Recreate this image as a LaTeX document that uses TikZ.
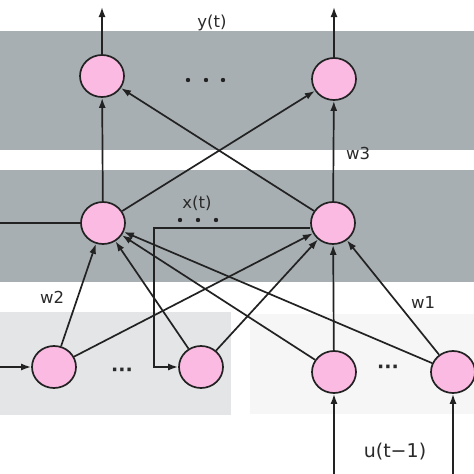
\documentclass[tikz,border=0pt]{standalone}
\usepackage{fontspec}
\setmainfont{DejaVu Sans}
\usetikzlibrary{shapes.geometric,arrows.meta}
\definecolor{band}{HTML}{A8AFB2}
\definecolor{lbox}{HTML}{E3E5E6}
\definecolor{rbox}{HTML}{F6F6F6}
\definecolor{pink}{HTML}{FBBAE2}
\definecolor{ink}{HTML}{222222}
\definecolor{txt}{HTML}{2A2A2A}
\tikzset{
  neuron/.style={ellipse, draw=ink, line width=1.7pt, fill=pink, minimum width=44pt, minimum height=42pt, inner sep=0pt},
  conn/.style={draw=ink, line width=1.7pt},
  arr/.style={conn, -{Latex[length=10pt,width=7pt]}},
  lbl/.style={text=txt, font=\fontsize{16.5}{18}\selectfont, inner sep=0pt},
  biglbl/.style={text=txt, font=\fontsize{19}{21}\selectfont, inner sep=0pt},
  dotlbl/.style={text=txt, font=\fontsize{19}{21}\selectfont\bfseries, inner sep=0pt},
  dotmark/.style={fill=ink}
}
\begin{document}
\begin{tikzpicture}[x=1pt,y=-1pt]
\useasboundingbox (0,0) rectangle (474,474);
\fill[white] (0,0) rectangle (474,474);
% bands
\fill[band] (0,31) rectangle (474,150);
\fill[band] (0,170) rectangle (474,282);
\fill[lbox] (0,312) rectangle (231,415);
\fill[rbox] (250,314) rectangle (474,414);
% nodes
\node[neuron] (t1) at (102,76) {};
\node[neuron] (t2) at (334,79) {};
\node[neuron] (m1) at (103,223) {};
\node[neuron] (m2) at (333,223) {};
\node[neuron] (b1) at (54,367) {};
\node[neuron] (b2) at (201,367) {};
\node[neuron] (b3) at (334,372) {};
\node[neuron] (b4) at (453,372) {};
% free ends
\coordinate (o1) at (102,7);
\coordinate (o2) at (334,7);
\coordinate (lin) at (0,223);
\coordinate (bin) at (0,367);
\coordinate (u3) at (334,474);
\coordinate (u4) at (453,474);
\coordinate (fb1) at (154,228);
\coordinate (fb2) at (154,367);
% outputs
\draw[arr] (t1) -- (o1);
\draw[arr] (t2) -- (o2);
% hidden to output
\draw[arr] (m1) -- (t1);
\draw[arr] (m2) -- (t2);
\draw[arr] (m1) -- (t2);
\draw[arr] (m2) -- (t1);
% left input to hidden
\draw[conn] (lin) -- (m1.west);
% feedback
\draw[arr] (m2.west |- fb1) -- (fb1) -- (fb2) -- (b2.west);
% inputs
\draw[arr] (bin) -- (b1.west);
\draw[arr] (u3) -- (b3);
\draw[arr] (u4) -- (b4);
% input to hidden
\draw[arr] (b1) -- (m1);
\draw[arr] (b1) -- (m2);
\draw[arr] (b2) -- (m1);
\draw[arr] (b2) -- (m2);
\draw[arr] (b3) -- (m1);
\draw[arr] (b3) -- (m2);
\draw[arr] (b4) -- (m1);
\draw[arr] (b4) -- (m2);
% dots
\foreach \x in {188,206,223} \fill[dotmark] (\x,80) circle (2.2pt);
\foreach \x in {180,198,216} \fill[dotmark] (\x,220) circle (2.2pt);
% labels
\node[lbl] (ly) at (212,23) {y(t)};
\node[lbl] (lx) at (197,203) {x(t)};
\node[lbl] (lw3) at (358,153) {w3};
\node[lbl] (lw2) at (52,297) {w2};
\node[lbl] (lw1) at (423,302) {w1};
\node[biglbl] (lu) at (395,452) {u(t−1)};
\node[dotlbl] (ld1) at (122,372) {···};
\node[dotlbl] (ld2) at (388,369) {···};
\end{tikzpicture}
\end{document}
